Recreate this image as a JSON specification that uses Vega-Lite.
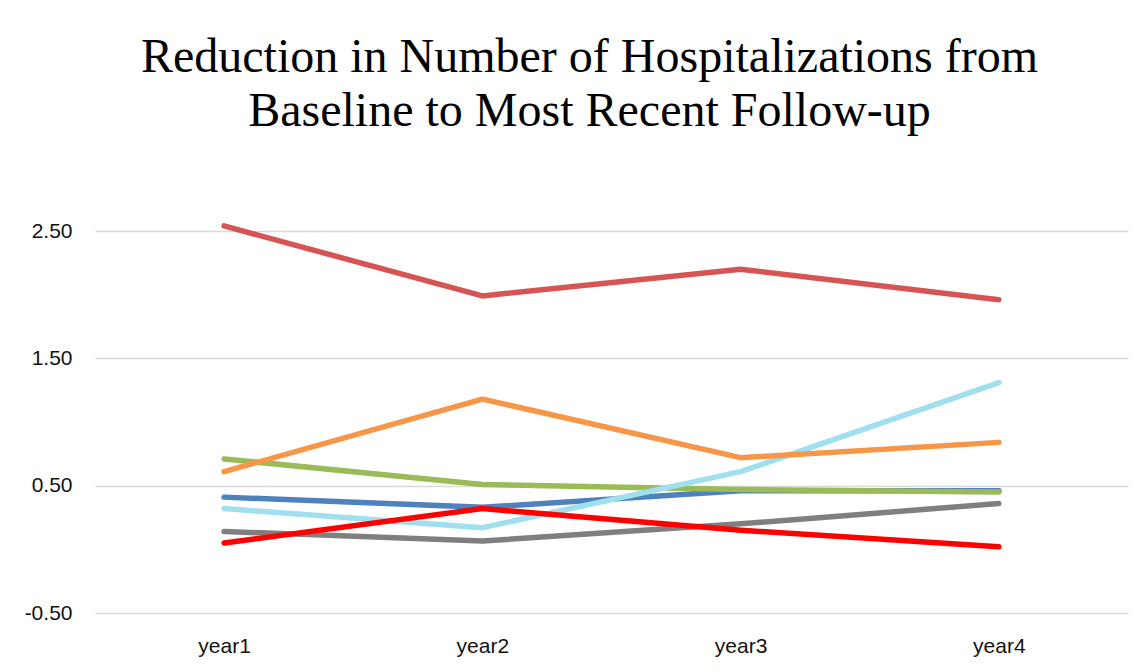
{
  "$schema": "https://vega.github.io/schema/vega-lite/v6.json",
  "width": 1033,
  "height": 382,
  "autosize": "none",
  "padding": {"left": 95, "top": 231, "right": 18, "bottom": 59},
  "background": "white",
  "title": {
    "text": ["Reduction in Number of Hospitalizations from", "Baseline to Most Recent Follow-up"],
    "font": "Liberation Serif",
    "fontSize": 48,
    "fontWeight": "normal",
    "color": "black",
    "anchor": "middle",
    "dx": -22,
    "offset": 84,
    "lineHeight": 54
  },
  "config": {
    "view": {"stroke": null},
    "axis": {
      "labelFont": "Liberation Sans",
      "labelFontSize": 21,
      "labelColor": "#111111",
      "domain": false,
      "ticks": false,
      "title": null
    }
  },
  "layer": [
    {
      "mark": {"type": "rule", "color": "#d9d9d9", "strokeWidth": 1.5},
      "encoding": {"y": {"datum": 0, "type": "quantitative"}}
    },
    {
      "data": {
        "values": [
          {"series": "Series1", "year": "year1", "value": 0.41},
          {"series": "Series1", "year": "year2", "value": 0.33},
          {"series": "Series1", "year": "year3", "value": 0.46},
          {"series": "Series1", "year": "year4", "value": 0.46},
          {"series": "Series2", "year": "year1", "value": 2.54},
          {"series": "Series2", "year": "year2", "value": 1.99},
          {"series": "Series2", "year": "year3", "value": 2.20},
          {"series": "Series2", "year": "year4", "value": 1.96},
          {"series": "Series3", "year": "year1", "value": 0.71},
          {"series": "Series3", "year": "year2", "value": 0.51},
          {"series": "Series3", "year": "year3", "value": 0.47},
          {"series": "Series3", "year": "year4", "value": 0.45},
          {"series": "Series4", "year": "year1", "value": 0.32},
          {"series": "Series4", "year": "year2", "value": 0.17},
          {"series": "Series4", "year": "year3", "value": 0.61},
          {"series": "Series4", "year": "year4", "value": 1.31},
          {"series": "Series5", "year": "year1", "value": 0.61},
          {"series": "Series5", "year": "year2", "value": 1.18},
          {"series": "Series5", "year": "year3", "value": 0.72},
          {"series": "Series5", "year": "year4", "value": 0.84},
          {"series": "Series6", "year": "year1", "value": 0.14},
          {"series": "Series6", "year": "year2", "value": 0.065},
          {"series": "Series6", "year": "year3", "value": 0.20},
          {"series": "Series6", "year": "year4", "value": 0.36},
          {"series": "Series7", "year": "year1", "value": 0.05},
          {"series": "Series7", "year": "year2", "value": 0.32},
          {"series": "Series7", "year": "year3", "value": 0.15},
          {"series": "Series7", "year": "year4", "value": 0.02}
        ]
      },
      "mark": {"type": "line", "strokeWidth": 5.5, "strokeCap": "round", "strokeJoin": "round"},
      "encoding": {
        "x": {
          "field": "year",
          "type": "ordinal",
          "scale": {"type": "point", "padding": 0.5},
          "axis": {"labelAngle": 0, "labelPadding": 22, "grid": false}
        },
        "y": {
          "field": "value",
          "type": "quantitative",
          "scale": {"domain": [-0.5, 2.5], "nice": false, "zero": false},
          "axis": {
            "values": [-0.5, 0.5, 1.5, 2.5],
            "labelExpr": "datum.value < 0 ? '-' + format(-datum.value, '.2f') : format(datum.value, '.2f')",
            "labelPadding": 23,
            "grid": true,
            "gridColor": "#d9d9d9",
            "gridWidth": 1.5
          }
        },
        "color": {
          "field": "series",
          "type": "nominal",
          "scale": {
            "domain": ["Series1", "Series2", "Series3", "Series4", "Series5", "Series6", "Series7"],
            "range": ["#4f81bd", "#d75454", "#9bbb59", "#a0e0ee", "#f79646", "#7f7f7f", "#ff0000"]
          },
          "legend": null
        }
      }
    }
  ]
}
